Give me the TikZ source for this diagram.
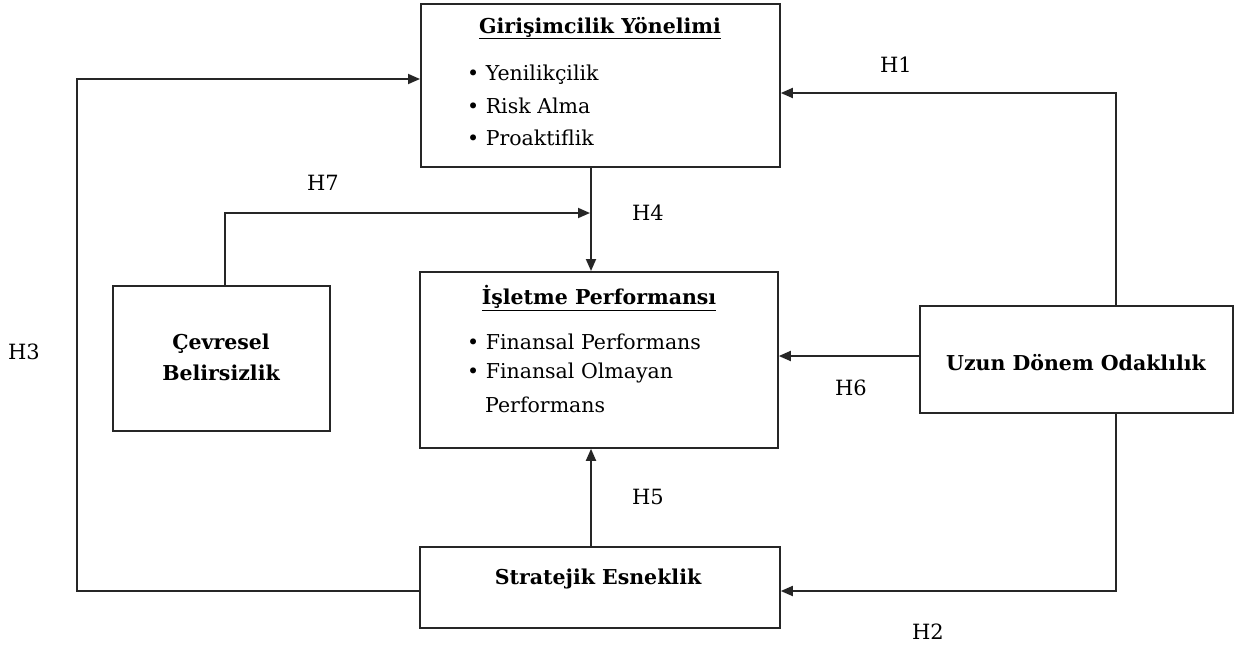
\documentclass[tikz,border=0pt]{standalone}
\usepackage{fontspec}
\setmainfont{DejaVu Serif}
\usetikzlibrary{arrows.meta}
\begin{document}
\begin{tikzpicture}[x=1pt,y=-1pt,
  box/.style={draw=black!85, line width=1.8pt, anchor=north west, inner sep=0pt},
  arr/.style={draw=black!85, line width=1.8pt, -{Triangle[length=12pt,width=10pt]}},
  ttl/.style={font=\fontsize{20.5}{31}\selectfont\bfseries, inner sep=0pt},
  txt/.style={font=\fontsize{20.5}{24}\selectfont, inner sep=0pt, anchor=west},
  lab/.style={font=\fontsize{21}{24}\selectfont, inner sep=0pt}
]
\useasboundingbox (0,0) rectangle (1234,646);
\fill[white] (0,0) rectangle (1234,646);
% boxes
\node[box, minimum width=359pt, minimum height=163pt] (gy) at (420,3) {};
\node[box, minimum width=358pt, minimum height=176pt] (ip) at (419,271) {};
\node[box, minimum width=217pt, minimum height=145pt] (cb) at (112,285) {};
\node[box, minimum width=313pt, minimum height=107pt] (ud) at (919,305) {};
\node[box, minimum width=360pt, minimum height=81pt] (se) at (419,546) {};
% texts
\node[ttl] (gyt) at (600,28) {\underline{Girişimcilik Yönelimi}};
\node[txt] (gy1) at (467,75) {\textbullet\ Yenilikçilik};
\node[txt] (gy2) at (467,106) {\textbullet\ Risk Alma};
\node[txt] (gy3) at (467,138) {\textbullet\ Proaktiflik};
\node[ttl] (ipt) at (599,298) {\underline{İşletme Performansı}};
\node[txt] (ip1) at (467,342) {\textbullet\ Finansal Performans};
\node[txt] (ip2) at (467,373) {\textbullet\ Finansal Olmayan};
\node[txt] (ip3) at (485,405) {Performans};
\node[ttl, align=center] (cbt) at (221,357) {Çevresel\\Belirsizlik};
\node[ttl] (udt) at (1076,363) {Uzun Dönem Odaklılık};
\node[ttl] (set) at (598,579) {Stratejik Esneklik};
% coordinates
\coordinate (h1) at (1116,93);
\coordinate (h2) at (1116,591);
\coordinate (h3) at (77,79);
\coordinate (h4) at (591,213);
\coordinate (h6) at (0,356);
\coordinate (h7) at (225,213);
% connectors
\draw[arr] (gy.south -| h4) -- (ip.north -| h4);
\draw[arr] (se.north -| h4) -- (ip.south -| h4);
\draw[arr] (ud.west |- h6) -- (ip.east |- h6);
\draw[arr] (ud.north -| h1) |- (gy.east |- h1);
\draw[arr] (ud.south -| h2) |- (se.east |- h2);
\draw[arr] (se.west |- h2) -| (h3) -- (gy.west |- h3);
\draw[arr] (cb.north -| h7) |- ([xshift=-1pt]h4);
% labels
\node[lab] (l1) at (896,65) {H1};
\node[lab] (l2) at (928,632) {H2};
\node[lab] (l3) at (24,352) {H3};
\node[lab] (l4) at (648,213) {H4};
\node[lab] (l5) at (648,497) {H5};
\node[lab] (l6) at (851,388) {H6};
\node[lab] (l7) at (323,183) {H7};
\end{tikzpicture}
\end{document}
